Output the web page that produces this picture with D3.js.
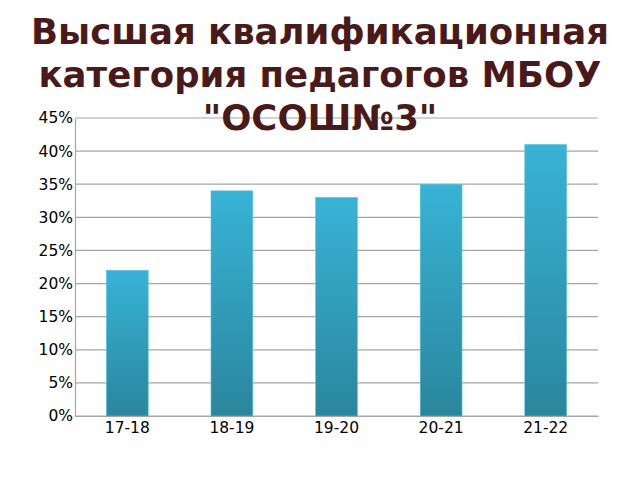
<!DOCTYPE html>
<html>
<head>
<meta charset="utf-8">
<script src="https://cdn.jsdelivr.net/npm/d3@7"></script>
<style>
  body { margin: 0; background: #fff; }
  svg { font-family: "DejaVu Sans", sans-serif; }
  .axis text { font-size: 15.5px; fill: #000; font-family: "DejaVu Sans", sans-serif; }
</style>
</head>
<body>
<div id="chart"></div>
<script>
// Data
var years = ["17-18", "18-19", "19-20", "20-21", "21-22"];
var shares = [22, 34, 33, 35, 41];
var yTicks = [0, 5, 10, 15, 20, 25, 30, 35, 40, 45];
var titleLines = ["Высшая квалификационная", "категория педагогов МБОУ", "\"ОСОШ№3\""];

var W = 640, H = 480,
    margin = { top: 118, right: 42, bottom: 64, left: 75 },
    width = W - margin.left - margin.right,
    height = H - margin.top - margin.bottom;

var svg = d3.select("#chart").append("svg")
    .attr("width", W)
    .attr("height", H);

// gradient for bars
var grad = svg.append("defs").append("linearGradient")
    .attr("id", "barGrad")
    .attr("x1", 0).attr("y1", 0).attr("x2", 0).attr("y2", 1);
grad.append("stop").attr("offset", "0%").attr("stop-color", "#38b3d6");
grad.append("stop").attr("offset", "100%").attr("stop-color", "#2a869d");

var g = svg.append("g")
    .attr("transform", "translate(" + margin.left + "," + margin.top + ")");

var x = d3.scaleBand().domain(years).range([0, width]).paddingInner(0.6).paddingOuter(0.3);
var y = d3.scaleLinear().domain([0, 45]).range([height, 0]);

// gridlines
g.selectAll(".grid")
    .data(yTicks)
    .enter().append("line")
    .attr("x1", 0).attr("x2", width)
    .attr("y1", function (d) { return y(d); })
    .attr("y2", function (d) { return y(d); })
    .attr("stroke", "#a6a6a6")
    .attr("stroke-width", 1.2);

// y axis
var yAxis = g.append("g")
    .attr("class", "axis")
    .call(d3.axisLeft(y).tickValues(yTicks).tickSize(0).tickPadding(2).tickFormat(function (d) { return d + "%"; }));
yAxis.select(".domain").attr("stroke", "#a6a6a6").attr("stroke-width", 1.2);

// bars
g.selectAll(".bar")
    .data(shares)
    .enter().append("rect")
    .attr("class", "bar")
    .attr("x", function (d, i) { return x(years[i]); })
    .attr("y", function (d) { return y(d); })
    .attr("width", x.bandwidth())
    .attr("height", function (d) { return height - y(d); })
    .attr("fill", "url(#barGrad)")
    .attr("stroke", "#5cc4e0")
    .attr("stroke-width", 0.6);

// x axis
var xAxis = g.append("g")
    .attr("class", "axis")
    .attr("transform", "translate(0," + height + ")")
    .call(d3.axisBottom(x).tickSize(0).tickPadding(6));
xAxis.select(".domain").attr("stroke", "#a6a6a6").attr("stroke-width", 1.2);

// title (drawn last, overlaps the top gridline like the original)
svg.append("g").selectAll("text")
    .data(titleLines)
    .enter().append("text")
    .attr("x", W / 2)
    .attr("y", function (d, i) { return 44 + i * 43; })
    .attr("text-anchor", "middle")
    .attr("font-size", 35.5)
    .attr("font-weight", "bold")
    .attr("fill", "#4a1a1a")
    .text(function (d) { return d; });
</script>
</body>
</html>
